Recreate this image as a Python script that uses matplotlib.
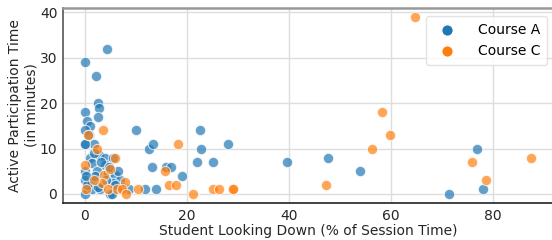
import numpy as np
import matplotlib.pyplot as plt

# Course A (blue) points
course_a_x = [0, 4.4, 2.2, 2.6, 2.8, 0, 2.6, 0.4, 1.0, 0, 0.8, 0, 1.7,
              10.1, 12.5, 13.3, 22.6, 22.8, 28.1, 13.1, 16.0, 16.8, 19.0,
              22.0, 25.1, 11.7, 14.0, 5.0,
              0, 1.0, 2.7, 3.9, 5.6, 1.4, 3.9, 0, 2.4, 4.6, 5.9, 6.9, 0,
              1.4, 5.6, 0, 1.4, 3.0, 7.3, 8.6, 5.3, 2.0, 4.2, 6.5, 0.5,
              3.2, 4.8, 1.8, 0.3, 6.0, 2.5,
              39.6, 47.7, 54.0, 76.9, 78.1, 71.3]
course_a_y = [29, 32, 26, 20, 19, 18, 17, 16, 15, 14, 13, 11, 11,
              14, 10, 11, 14, 10, 11, 6, 6, 6, 4,
              7, 7, 1, 1, 0,
              11, 8, 8.6, 8, 8, 6.8, 6.4, 5, 5, 4.6, 4.2, 3, 3,
              2.7, 2.4, 0, 1, 1, 1.6, 1, 0, 4, 3, 5, 2,
              7, 6, 9, 4, 2, 1.5,
              7, 8, 5, 10, 1, 0]

# Course C (orange) points
course_c_x = [3.6, 0.7, 2.4, 18.3, 15.8, 16.4, 17.8, 10.5, 21.2, 25.1, 26.3,
              29.0, 29.1, 0, 5.9, 3.7, 3.3, 7.8, 4.6, 6.3, 7.3, 8.0, 1.8,
              0.2, 5.0,
              47.2, 56.3, 58.3, 59.9, 64.7, 75.9, 78.6, 87.4]
course_c_y = [14, 13, 10, 11, 5, 2, 2, 1, 0, 1, 1,
              1, 1, 6.4, 8, 4.2, 2.4, 2.7, 1, 1, 1, 0, 3,
              1, 5.5,
              2, 10, 18, 13, 39, 7, 3, 8]

plt.rcParams['font.family'] = 'DejaVu Sans'
fig = plt.figure(figsize=(5.52, 2.4), dpi=100)
ax = fig.add_axes([0.114, 0.154, 0.89, 0.813])

ax.grid(True, color='#dddddd', linewidth=1)
ax.set_axisbelow(True)
ax.scatter(course_a_x, course_a_y, s=55, color='#1f77b4', alpha=0.7,
           edgecolor='white', linewidth=0.8, label='Course A', zorder=3)
ax.scatter(course_c_x, course_c_y, s=55, color='#ff7f0e', alpha=0.7,
           edgecolor='white', linewidth=0.8, label='Course C', zorder=3)

ax.set_xlim(-4.3, 92)
ax.set_ylim(-2, 41)
ax.set_xticks([0, 20, 40, 60, 80])
ax.set_yticks([0, 10, 20, 30, 40])
ax.tick_params(length=0, labelsize=10, colors='#262626', pad=4)

ax.spines['left'].set_color('#555555')
ax.spines['bottom'].set_color('#222222')
ax.spines['top'].set_color('#999999')
ax.spines['top'].set_linewidth(1.8)
for s in ['left', 'bottom']:
    ax.spines[s].set_linewidth(1.2)

ax.set_xlabel('Student Looking Down (% of Session Time)', fontsize=10,
              color='#262626', labelpad=1)
ax.set_ylabel('Active Participation Time\n(in minutes)', fontsize=10,
              color='#262626', labelpad=1)

leg = ax.legend(loc='upper right', bbox_to_anchor=(1.0, 0.995), fontsize=10,
                frameon=True, handletextpad=1.2, borderpad=0.5,
                markerscale=1.1)
for h in leg.legend_handles:
    h.set_alpha(1)
leg.get_frame().set_edgecolor('#dddddd')

fig.savefig('out.png', dpi=100)
